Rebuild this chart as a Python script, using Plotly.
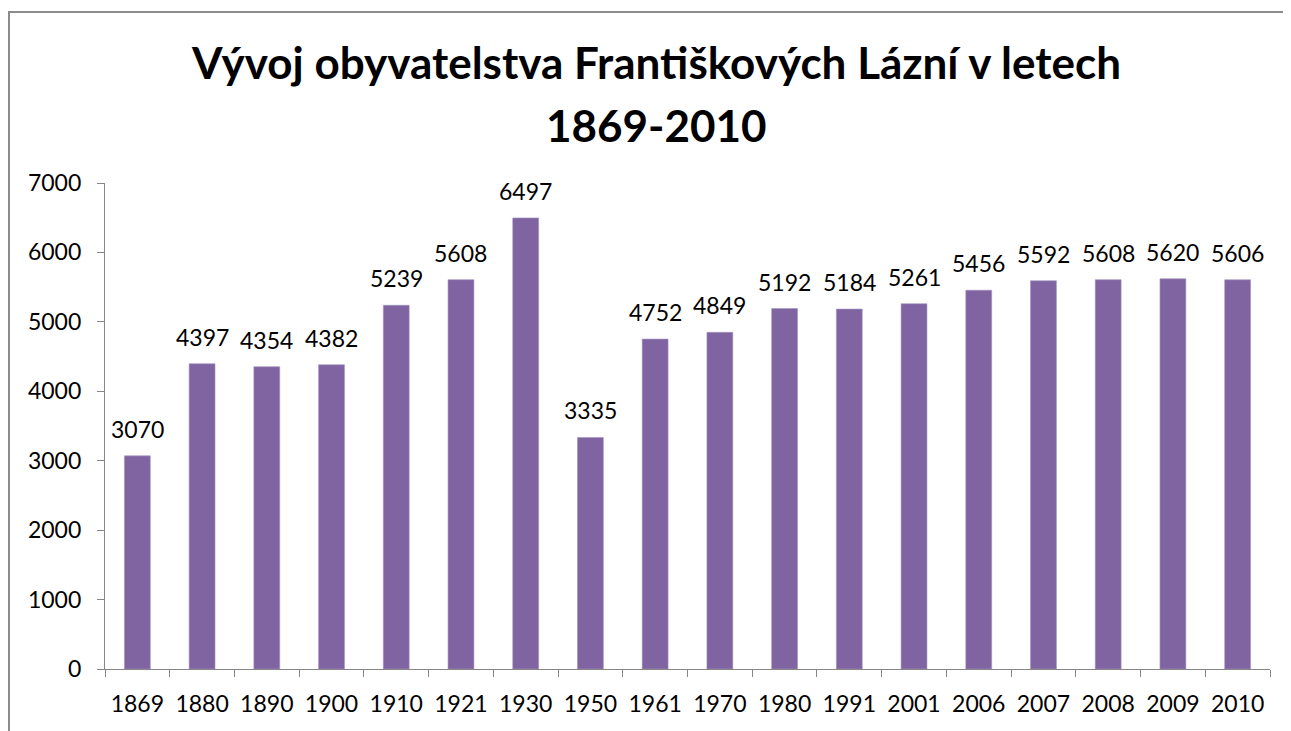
import plotly.graph_objects as go

years = ["1869", "1880", "1890", "1900", "1910", "1921", "1930", "1950", "1961",
         "1970", "1980", "1991", "2001", "2006", "2007", "2008", "2009", "2010"]
population = [3070, 4397, 4354, 4382, 5239, 5608, 6497, 3335, 4752,
              4849, 5192, 5184, 5261, 5456, 5592, 5608, 5620, 5606]
title_lines = ["Vývoj obyvatelstva Františkových Lázní v letech", "1869-2010"]
y_ticks = [0, 1000, 2000, 3000, 4000, 5000, 6000, 7000]

FONT = "Lato"
FS = 23
AXIS_COLOR = "#868686"
OFF = 8  # page body margin offset

fig = go.Figure()
fig.add_trace(go.Bar(
    x=years, y=population,
    marker=dict(color="#8064A2", line=dict(color="#A593C0", width=0.6)),
    cliponaxis=False,
))
# value labels above each bar (x given as category index on the category axis)
for i, v in enumerate(population):
    fig.add_annotation(
        x=i, y=v, text=str(v), showarrow=False,
        yanchor="bottom", xanchor="center", yshift=11,
        font=dict(family=FONT, size=FS, color="black"),
    )

W, H = 1291, 731
L, T = 105 - OFF, 183 - OFF
R = W - (1270 - OFF)
B = H - (669 - OFF)
pw, ph = W - L - R, H - T - B
plot_bottom = H - B

# two-line chart title, centred like the original
title_cx = 656 - OFF
for line, cy in zip(title_lines, [62, 125]):
    fig.add_annotation(
        xref="paper", yref="paper",
        x=(title_cx - L) / pw, y=(plot_bottom - (cy - OFF)) / ph,
        xanchor="center", yanchor="middle", showarrow=False,
        text="<b>" + line + "</b>",
        font=dict(family=FONT, size=44, color="black"),
    )

fig.update_layout(
    width=W, height=H,
    margin=dict(l=L, r=R, t=T, b=B, autoexpand=False),
    paper_bgcolor="white", plot_bgcolor="white",
    bargap=0.6,
    showlegend=False,
    font=dict(family=FONT, size=FS, color="black"),
)
fig.update_xaxes(
    type="category", tickangle=0,
    categoryorder="array", categoryarray=years,
    range=[-0.5, len(years) - 0.5],
    showline=True, linecolor=AXIS_COLOR, linewidth=1.3,
    ticks="outside", tickson="boundaries", ticklen=7, tickcolor=AXIS_COLOR, tickwidth=1.3,
    tickfont=dict(family=FONT, size=FS, color="black"),
    ticklabelstandoff=14,
    showgrid=False, zeroline=False,
)
fig.update_yaxes(
    range=[0, 7000], tickvals=y_ticks,
    showline=True, linecolor=AXIS_COLOR, linewidth=1.3,
    ticks="outside", ticklen=7, tickcolor=AXIS_COLOR, tickwidth=1.3,
    tickfont=dict(family=FONT, size=FS, color="black"),
    ticklabelstandoff=11,
    showgrid=False, zeroline=False,
)
# outer chart border (extends past the right and bottom edges, as in the original)
fig.add_shape(
    type="rect", xref="paper", yref="paper",
    x0=(9 - OFF - L) / pw, x1=(W + 20 - L) / pw,
    y0=-(B + 20) / ph, y1=1 + (T - (12 - OFF)) / ph,
    line=dict(color="#8C8C8C", width=2), fillcolor="rgba(0,0,0,0)",
    layer="below",
)
fig.write_html("out.html")
